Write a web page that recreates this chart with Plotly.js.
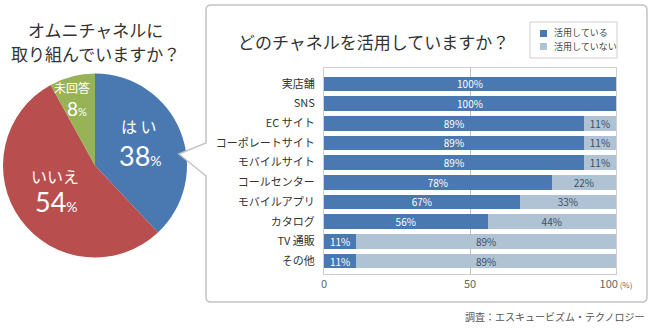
<!DOCTYPE html>
<html><head><meta charset="utf-8">
<script src="https://cdn.plot.ly/plotly-3.0.1.min.js"></script>
<style>html,body{margin:0;padding:0;background:#fff}#c{width:650px;height:330px}</style>
</head><body><div id="c"></div>
<script>
// ---- data ----
const pieLabels = ['はい', 'いいえ', '未回答'];
const pieValues = [38, 54, 8];
const categories = ['実店舗', 'SNS', 'EC サイト', 'コーポレートサイト', 'モバイルサイト', 'コールセンター', 'モバイルアプリ', 'カタログ', 'TV 通販', 'その他'];
const usingVals = [100, 100, 89, 89, 89, 78, 67, 56, 11, 11];
const notUsingVals = [0, 0, 11, 11, 11, 22, 33, 44, 89, 89];
const seriesNames = ['活用している', '活用していない'];
const xTickVals = [0, 50, 100];
const xTickText = ['0', '50', '100<span style="font-size:8px"> (%)</span>'];

// ---- layout helpers ----
const W = 650, H = 330;
const px = x => x / W;
const py = y => 1 - y / H;
const FONT = '"Noto Sans CJK JP", "Noto Sans", sans-serif';
const NUMFONT = 'Lato, "Open Sans", sans-serif';
const BLUE = '#4a79b1', LIGHT = '#afc3d5';

const pie = {
  type: 'pie', labels: pieLabels, values: pieValues, sort: false, direction: 'clockwise',
  marker: {colors: ['#4a79b1', '#b84e4d', '#98b356'], line: {width: 0}},
  textinfo: 'none', hoverinfo: 'label+percent', showlegend: false,
  domain: {x: [px(3), px(187)], y: [py(258), py(73)]}
};
const txt = v => v.map(d => d > 0 ? d + '%' : '');
const bar1 = {
  type: 'bar', orientation: 'h', y: categories, x: usingVals, name: seriesNames[0], showlegend: false,
  marker: {color: BLUE}, text: txt(usingVals), textposition: 'inside', insidetextanchor: 'middle',
  constraintext: 'none', textfont: {color: '#fff', size: 10, family: FONT}, hoverinfo: 'x+y'
};
const bar2 = {
  type: 'bar', orientation: 'h', y: categories, x: notUsingVals, name: seriesNames[1], showlegend: false,
  marker: {color: LIGHT}, text: txt(notUsingVals), textposition: 'inside', insidetextanchor: 'middle',
  constraintext: 'none', textfont: {color: '#3e4e60', size: 10, family: FONT}, hoverinfo: 'x+y'
};

function ptsPath(pts) { return pts.map((p, i) => (i ? 'L' : 'M') + px(p[0]) + ',' + py(p[1])).join(' ') + ' Z'; }
const P = (x, y) => px(x) + ',' + py(y);

const shapes = [
  {type: 'path', xref: 'paper', yref: 'paper', layer: 'above', path: ptsPath([[207, 141], [179, 154], [207, 178]]),
   fillcolor: '#fff', line: {width: 0}},
  {type: 'path', xref: 'paper', yref: 'paper', layer: 'above',
   path: 'M' + P(211, 5) + ' L' + P(642, 5) + ' Q' + P(647, 5) + ' ' + P(647, 10) +
     ' L' + P(647, 297) + ' Q' + P(647, 302) + ' ' + P(642, 302) +
     ' L' + P(211, 302) + ' Q' + P(206, 302) + ' ' + P(206, 297) +
     ' L' + P(206, 176) + ' L' + P(179, 154) + ' L' + P(206, 143) +
     ' L' + P(206, 10) + ' Q' + P(206, 5) + ' ' + P(211, 5),
   fillcolor: 'rgba(0,0,0,0)', line: {color: '#c4c4c4', width: 1.5}},
  // legend box and swatches
  {type: 'rect', xref: 'paper', yref: 'paper', x0: px(530), x1: px(617), y0: py(22), y1: py(58),
   fillcolor: '#fff', line: {color: '#cfcfcf', width: 1}},
  {type: 'rect', xref: 'paper', yref: 'paper', x0: px(540), x1: px(547), y0: py(30), y1: py(37),
   fillcolor: BLUE, line: {width: 0}},
  {type: 'rect', xref: 'paper', yref: 'paper', x0: px(540), x1: px(547), y0: py(43), y1: py(50),
   fillcolor: LIGHT, line: {width: 0}}
];

const ann = (x, y, text, size, color, extra) => Object.assign({
  xref: 'paper', yref: 'paper', x: px(x), y: py(y), text: text, showarrow: false,
  xanchor: 'center', yanchor: 'middle', font: {size: size, color: color, family: FONT}, borderpad: 0
}, extra || {});
const pct = (n, small) => n + '<span style="font-size:' + small + 'px">%</span>';
const annotations = [
  ann(95, 29, 'オムニチャネルに', 17, '#333'),
  ann(95, 54, '取り組んでいますか？', 17, '#333'),
  ann(139, 126, pieLabels[0].split('').join(' '), 16, '#fff'),
  ann(140, 155, pct(pieValues[0], 14), 27, '#fff', {font: {size: 27, color: '#fff', family: NUMFONT}}),
  ann(55, 176, pieLabels[1], 16, '#fff'),
  ann(56, 202, pct(pieValues[1], 14), 27, '#fff', {font: {size: 27, color: '#fff', family: NUMFONT}}),
  ann(72, 88, pieLabels[2], 12, '#fff'),
  ann(77, 108, pct(pieValues[2], 11), 19, '#fff', {font: {size: 19, color: '#fff', family: NUMFONT}}),
  ann(237, 42, 'どのチャネルを活用していますか？', 17, '#333', {xanchor: 'left'}),
  ann(553, 33, seriesNames[0], 9, '#444', {xanchor: 'left'}),
  ann(553, 46, seriesNames[1], 9, '#444', {xanchor: 'left'}),
  ann(645, 316, '調査：エスキュービズム・テクノロジー', 10, '#555', {xanchor: 'right'})
];

const layout = {
  width: W, height: H, margin: {l: 0, r: 0, t: 0, b: 0}, paper_bgcolor: '#fff', plot_bgcolor: '#fff',
  font: {family: FONT, color: '#333'}, barmode: 'stack', bargap: 0.26, showlegend: false,
  xaxis: {domain: [px(324), px(616)], range: [0, 100], tickvals: xTickVals, ticktext: xTickText,
    showgrid: true, gridcolor: '#bdbdbd', gridwidth: 1, zeroline: false, showline: true, mirror: true,
    linecolor: '#cfcfcf', linewidth: 1, ticks: '', tickfont: {size: 11, color: '#666', family: FONT}, fixedrange: true},
  yaxis: {domain: [py(274), py(68)], type: 'category', categoryorder: 'array', categoryarray: categories,
    range: [9.66, -0.81], showgrid: false, zeroline: false, showline: true, mirror: true, linecolor: '#cfcfcf',
    ticks: '', ticklabelstandoff: 6, tickfont: {size: 11, color: '#333', family: FONT}, fixedrange: true},
  shapes: shapes, annotations: annotations
};
Plotly.newPlot('c', [pie, bar1, bar2], layout, {displayModeBar: false, staticPlot: true});
</script></body></html>
